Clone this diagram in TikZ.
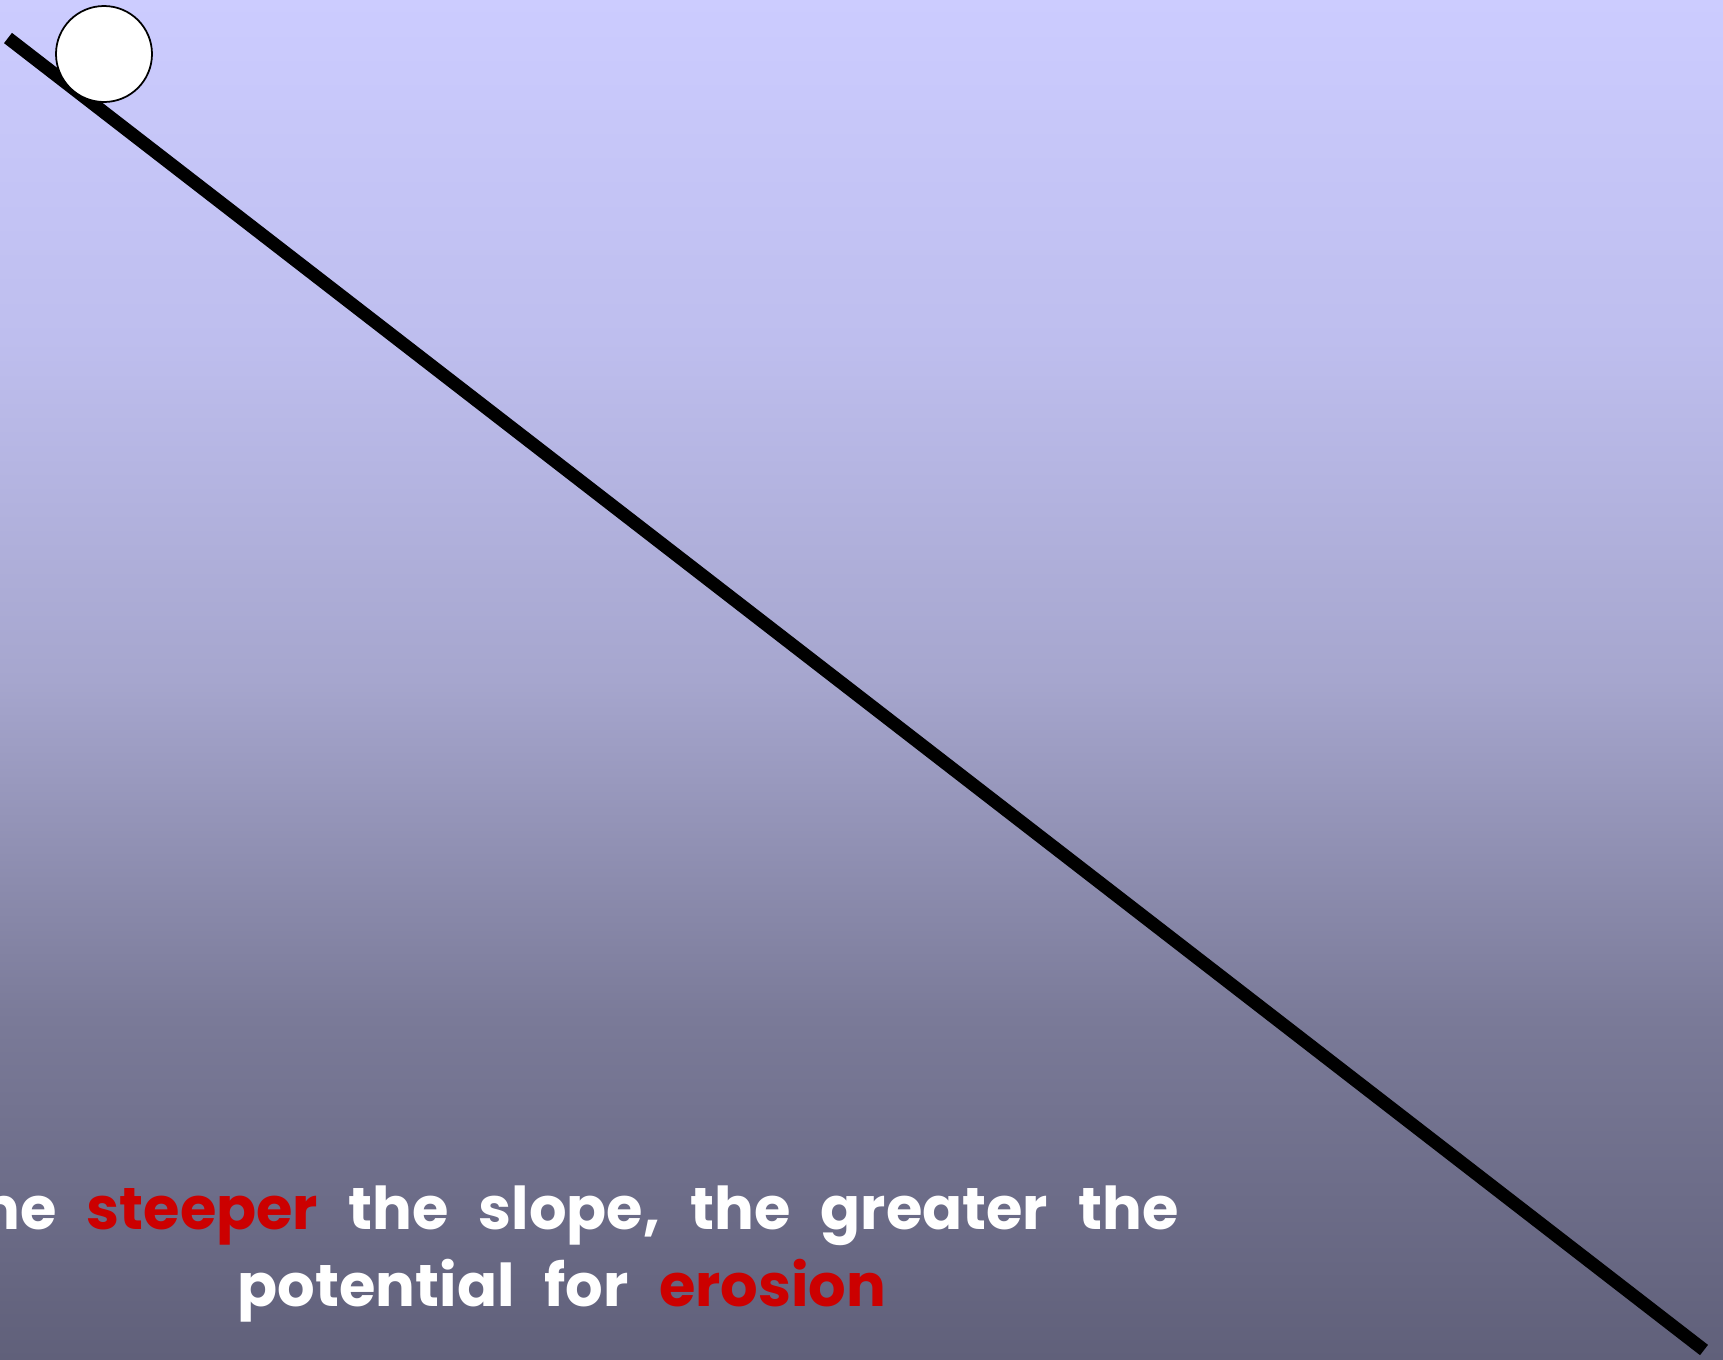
\documentclass[tikz,border=0pt]{standalone}
\usepackage{fontspec}
\setmainfont{Poppins}
\definecolor{skytop}{RGB}{204,204,255}
\definecolor{skyhigh}{RGB}{190,190,238}
\definecolor{skymid}{RGB}{166,166,206}
\definecolor{skylow}{RGB}{122,122,152}
\definecolor{skybottom}{RGB}{96,96,122}
\definecolor{hotred}{RGB}{204,0,0}
% the path is fitted to the 25bp--75bp band of the shading
\pgfdeclareverticalshading{skyfade}{100bp}{color(0bp)=(skybottom); color(25bp)=(skybottom);
  color(37.5bp)=(skylow); color(50bp)=(skymid); color(62.5bp)=(skyhigh);
  color(75bp)=(skytop); color(100bp)=(skytop)}
\newcommand\widewords{\spaceskip=8.6pt\relax}
\begin{document}
\begin{tikzpicture}[font=\bfseries,
    slope/.style={line width=3.7pt, line cap=butt},
    ball/.style={circle, draw, fill=white, line width=0.5pt, minimum size=0.96cm, inner sep=0pt},
    caption/.style={text=white, align=center,
      font=\fontsize{16.8}{21.9}\selectfont\bfseries\widewords}]
    % Frame: 1px of the slide = 0.01cm, y runs downward
    \useasboundingbox (0,0) rectangle (17.23,-13.59);
    \clip (0,0) rectangle (17.23,-13.59);
    \shade[shading=skyfade] (0,0) rectangle (17.23,-13.59);

    % The hillside
    \coordinate (top) at (0.08,-0.38);
    \coordinate (foot) at (17.04,-13.50);
    \draw[slope] (top) -- (foot);

    % Ball resting at the top
    \node[ball] (rock) at (1.04,-0.54) {};

    % Caption (base = baseline of the last line)
    \node[caption, anchor=base] (note) at (5.62,-13.06)
      {The \textcolor{hotred}{steeper} the slope, the greater the\\
       potential for \textcolor{hotred}{erosion}};
\end{tikzpicture}
\end{document}
